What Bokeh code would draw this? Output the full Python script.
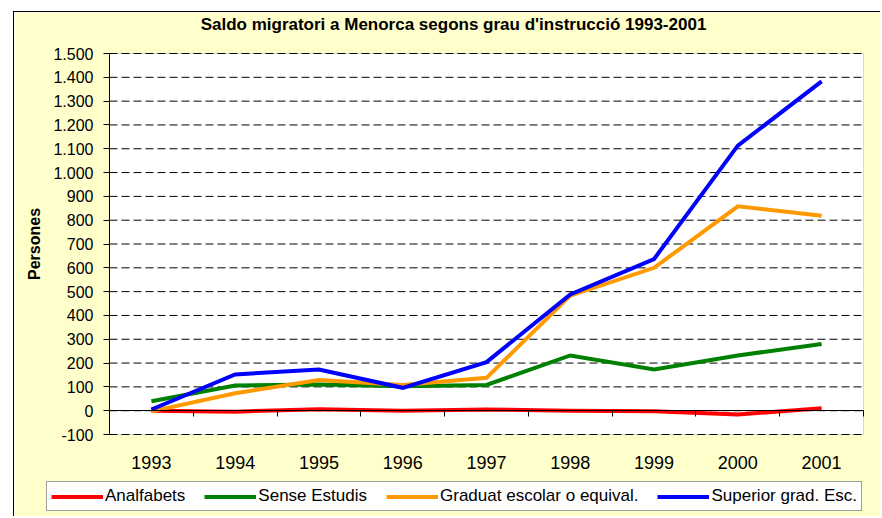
from bokeh.plotting import figure
from bokeh.models import (Range1d, LinearAxis, FixedTicker, Legend, LegendItem, BoxAnnotation, Label)
from bokeh.embed import file_html
from bokeh.resources import INLINE

# ---- data ----
years = ["1993", "1994", "1995", "1996", "1997", "1998", "1999", "2000", "2001"]
analfabets = [0, -4, 6, 0, 5, 0, -2, -16, 10]
sense_estudis = [40, 106, 110, 103, 108, 232, 173, 232, 280]
graduat = [-3, 73, 129, 108, 138, 483, 600, 858, 819]
superior = [5, 152, 173, 96, 204, 488, 637, 1113, 1383]

series_names = ["Analfabets", "Sense Estudis", "Graduat escolar o equival.", "Superior grad. Esc."]
series_colors = ["#FF0000", "#008000", "#FF9900", "#0000FF"]

y_ticks = [-100, 0, 100, 200, 300, 400, 500, 600, 700, 800, 900, 1000, 1100, 1200, 1300, 1400, 1500]
y_tick_labels = ["-100", "0", "100", "200", "300", "400", "500", "600", "700", "800", "900",
                 "1.000", "1.100", "1.200", "1.300", "1.400", "1.500"]

title_text = "Saldo migratori a Menorca segons grau d'instrucció 1993-2001"
y_label = "Persones"

FONT = "Liberation Sans"
BG = "#FFFFCC"

# ---- geometry (pixels inside the canvas) ----
W, H = 867, 505
area_left, area_right = 95, 849     # white plot area
area_top, area_bottom = 41, 422
y_lo, y_hi = y_ticks[0], y_ticks[-1]
n = len(years)
ux = (area_right - area_left) / n
uy = (area_bottom - area_top) / (y_hi - y_lo)

x_centers = [i + 0.5 for i in range(n)]
x_bounds = list(range(n + 1))

p = figure(x_range=Range1d(-area_left / ux, n + (W - area_right) / ux),
           y_range=Range1d(y_lo - (H - area_bottom) / uy, y_hi + area_top / uy),
           width=W, height=H, output_backend="svg", toolbar_location=None,
           min_border_left=0, min_border_right=0, min_border_top=0, min_border_bottom=0,
           margin=(11, 0, 0, 13))
p.styles = {"border-top": "1px solid black", "border-left": "1px solid black"}
p.border_fill_color = BG
p.background_fill_color = BG
p.outline_line_color = None
p.xgrid.visible = False
p.ygrid.visible = False

# white plot area
p.add_layout(BoxAnnotation(left=0, right=n, bottom=y_lo, top=y_hi, fill_color="white",
                           fill_alpha=1, line_color="#808080", line_width=1, level="underlay"))

# dashed horizontal grid lines
p.segment(x0=[0] * len(y_ticks), x1=[n] * len(y_ticks), y0=y_ticks, y1=y_ticks,
          line_color="black", line_width=1, line_dash="8 4")

# title
p.add_layout(Label(x=439, y=H - 12, x_units="screen", y_units="screen", text=title_text,
                   text_align="center", text_baseline="alphabetic", text_font=FONT,
                   text_font_style="bold", text_font_size="17px", text_color="black"))

# y axis (drawn at x = 0)
ya = p.yaxis[0]
ya.fixed_location = 0
ya.bounds = (y_lo, y_hi)
ya.ticker = FixedTicker(ticks=y_ticks)
ya.major_label_overrides = {t: l for t, l in zip(y_ticks, y_tick_labels)}
ya.axis_line_color = "black"
ya.major_tick_line_color = "black"
ya.major_tick_out = 6
ya.major_tick_in = 0
ya.minor_tick_line_color = None
ya.major_label_text_font = FONT
ya.major_label_text_font_size = "16px"
ya.major_label_text_color = "black"
ya.major_label_standoff = 10
ya.axis_label = y_label
ya.axis_label_text_font = FONT
ya.axis_label_text_font_style = "bold"
ya.axis_label_text_font_size = "16px"
ya.axis_label_text_color = "black"
ya.axis_label_standoff = 7

# category labels, below the plot area
xa = p.xaxis[0]
xa.fixed_location = y_lo
xa.bounds = (0, n)
xa.ticker = FixedTicker(ticks=x_centers)
xa.major_label_overrides = {c: y for c, y in zip(x_centers, years)}
xa.axis_line_color = None
xa.major_tick_line_color = None
xa.major_tick_out = 0
xa.minor_tick_line_color = None
xa.major_label_text_font = FONT
xa.major_label_text_font_size = "18px"
xa.major_label_text_color = "black"
xa.major_label_standoff = 21

# axis line at zero with boundary ticks
bx = LinearAxis(fixed_location=0, bounds=(0, n), ticker=FixedTicker(ticks=x_bounds))
bx.major_label_overrides = {b: "" for b in x_bounds}
bx.axis_line_color = "black"
bx.major_tick_line_color = "black"
bx.major_tick_out = 6
bx.major_tick_in = 0
bx.minor_tick_line_color = None
bx.major_label_standoff = 0
p.add_layout(bx, "below")

# lines
renderers = []
for vals, color in zip([analfabets, sense_estudis, graduat, superior], series_colors):
    renderers.append(p.line(x_centers, vals, line_color=color, line_width=4, line_join="miter"))

legend = Legend(items=[LegendItem(label=nm, renderers=[r]) for nm, r in zip(series_names, renderers)],
                orientation="horizontal", location=(32, 6))
legend.label_text_font = FONT
legend.label_text_font_size = "17px"
legend.label_text_color = "black"
legend.glyph_width = 52
legend.glyph_height = 17
legend.label_height = 17
legend.label_standoff = 2
legend.spacing = 19
legend.padding = 4
legend.margin = 0
legend.border_line_color = "#404040"
legend.border_line_width = 1
legend.background_fill_color = "white"
legend.background_fill_alpha = 1
p.add_layout(legend)

open("out.html", "w").write(file_html(p, INLINE))
